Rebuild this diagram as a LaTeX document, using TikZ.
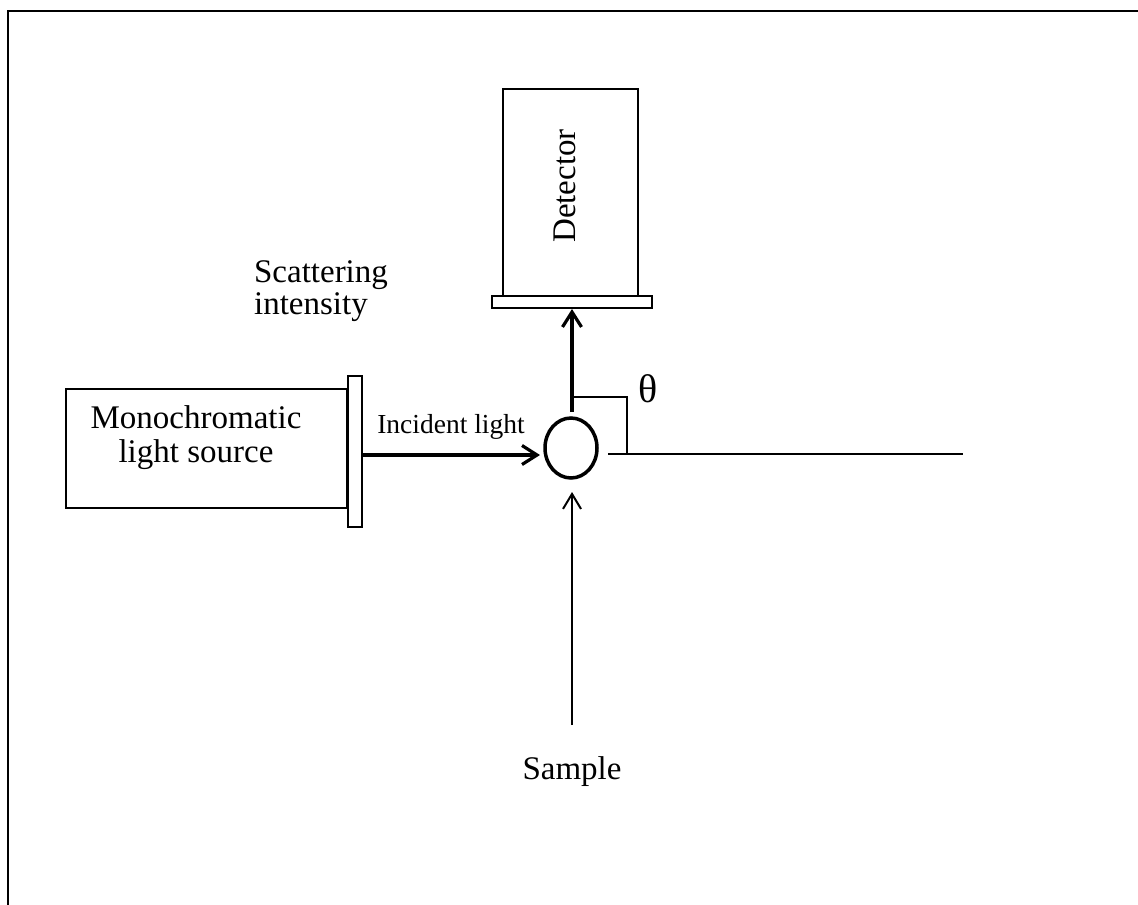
\documentclass[tikz,border=0pt]{standalone}
\usepackage{fontspec}
\setmainfont{Liberation Serif}
\usetikzlibrary{arrows.meta,shapes.geometric}
\begin{document}
\begin{tikzpicture}[x=1pt,y=-1pt,
  box/.style={draw,line width=2pt,rectangle,inner sep=0pt},
  lbl/.style={inner sep=0pt,font=\fontsize{33}{34}\selectfont,align=center},
  thickarrow/.style={line width=3.8pt,-{Straight Barb[length=15pt,width=19pt,line width=3.2pt]}},
  thinarrow/.style={line width=2pt,-{Straight Barb[length=15pt,width=18pt,line width=2pt]}},
  thinline/.style={line width=2pt}]
\useasboundingbox (0,0) rectangle (1138,905);
% frame (left and top edges visible)
\draw[line width=2.5pt] (8,905) -- (8,11) -- (1138,11);
% detector
\node[box,minimum width=135pt,minimum height=207pt] (det) at (570.5,192.5) {};
\node[lbl,rotate=90] (dettext) at (565,186) {Detector};
\node[box,minimum width=160pt,minimum height=12pt] (detplate) at (572,302) {};
% light source
\node[box,minimum width=281pt,minimum height=119pt] (src) at (206.5,448.5) {};
\node[lbl] (srctext) at (196,438) {Monochromatic\\light source};
\node[box,minimum width=14pt,minimum height=151pt] (srcplate) at (355,451.5) {};
% sample
\node[draw,ellipse,line width=3.5pt,minimum width=52pt,minimum height=60pt,inner sep=0pt] (samp) at (571,448) {};
% labels
\node[inner sep=0pt,font=\fontsize{33}{32}\selectfont,align=left] (scat) at (321,291) {Scattering\\intensity};
\node[inner sep=0pt,font=\fontsize{27.5}{30}\selectfont] (inc) at (451,427) {Incident light};
\node[inner sep=0pt,font=\fontsize{40}{42}\selectfont] (theta) at (648,389) {θ};
\node[lbl] (samptext) at (572,772) {Sample};
% connectors
\coordinate (inA) at (srcplate.east |- 0,455);
\coordinate (inB) at (540,455);
\draw[thickarrow] (inA) -- (inB);
\coordinate (scA) at (572,412);
\draw[thickarrow] (scA) -- (scA |- detplate.south);
\coordinate (smA) at (572,725);
\coordinate (smB) at (572,492);
\draw[thinarrow] (smA) -- (smB);
% angle marker and reference line
\coordinate (angA) at (572,397);
\coordinate (angB) at (627,397);
\coordinate (angC) at (627,454);
\draw[thinline] (angA) -- (angB) -- (angC);
\coordinate (refA) at (608,454);
\coordinate (refB) at (963,454);
\draw[thinline] (refA) -- (refB);
\end{tikzpicture}
\end{document}
